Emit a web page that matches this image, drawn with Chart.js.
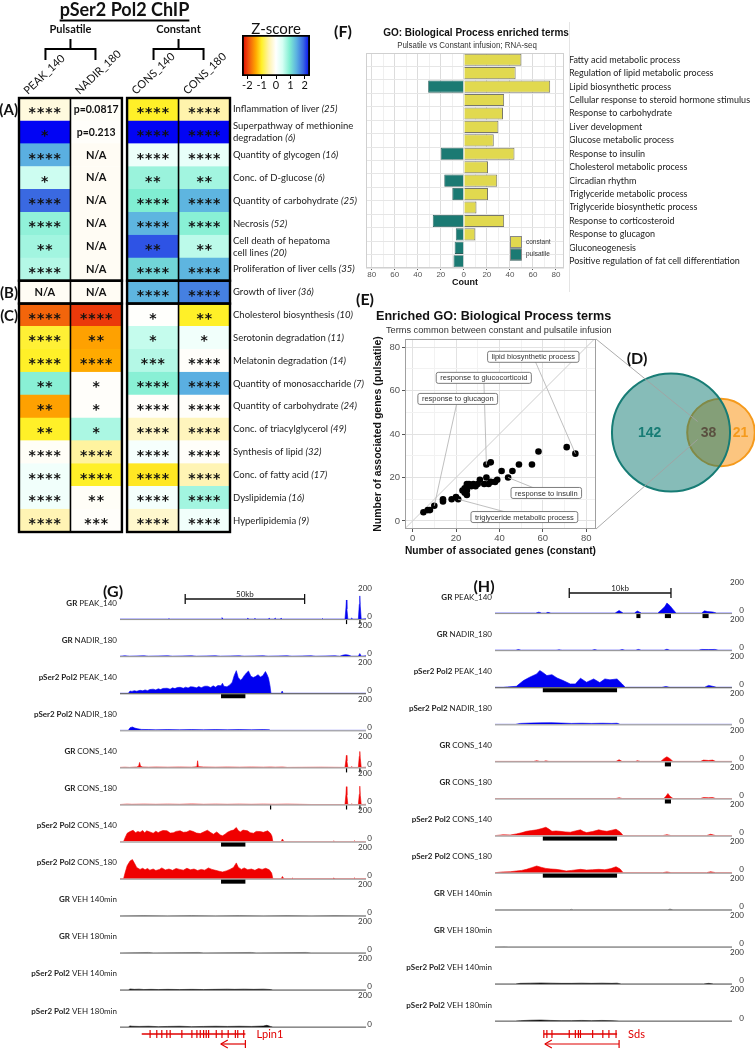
<!DOCTYPE html>
<html>
<head>
<meta charset="utf-8">
<script src="https://cdn.jsdelivr.net/npm/chart.js@4.4.1/dist/chart.umd.min.js"></script>
<style>
    html, body { margin: 0; padding: 0; background: #fff; }
    #page { position: relative; width: 755px; height: 1049px; overflow: hidden; background: #fff; }
    #page canvas { position: absolute; left: 0; top: 0; }
</style>
</head>
<body>
<div id="page">
    <canvas id="heat" width="755" height="1049"></canvas>
    <canvas id="zbar" width="755" height="1049"></canvas>
    <canvas id="go" width="755" height="1049"></canvas>
    <canvas id="scatter" width="755" height="1049"></canvas>
    <canvas id="venn" width="900" height="1049"></canvas>
    <canvas id="tracksG" width="755" height="1049"></canvas>
    <canvas id="tracksH" width="755" height="1049"></canvas>
</div>
<script>
// ============================================
// DATA
// ============================================

// --- (A)-(C) heatmap: IPA terms, z-scores and significance per sample ---
const heatColumns = ['PEAK_140', 'NADIR_180', 'CONS_140', 'CONS_180'];
const heatTerms = [
    'Inflammation of liver', 'Superpathway of methionine\ndegradation', 'Quantity of glycogen',
    'Conc. of D-glucose', 'Quantity of carbohydrate', 'Necrosis', 'Cell death of hepatoma\ncell lines',
    'Proliferation of liver cells', 'Growth of liver', 'Cholesterol biosynthesis', 'Serotonin degradation',
    'Melatonin degradation', 'Quantity of monosaccharide', 'Quantity of carbohydrate',
    'Conc. of triacylglycerol', 'Synthesis of lipid', 'Conc. of fatty acid', 'Dyslipidemia', 'Hyperlipidemia'
];
const heatCounts = [25, 6, 16, 6, 25, 52, 20, 35, 36, 10, 11, 14, 7, 24, 49, 32, 17, 16, 9];
const heatGroups = [['(A)', 0, 8], ['(B)', 8, 9], ['(C)', 9, 19]];

// null = N/A
const zPeak140  = [-0.2, 2.35, 1.45, 0.5, 1.9, 0.85, 0.75, 0.65, null, -1.8, -0.95, -1.0, 0.9, -1.45, -1.0, -0.05, 0.15, 0.15, -0.45];
const zNadir180 = [-0.05, -0.03, null, null, null, null, null, null, null, -2.05, -1.45, -1.4, -0.03, -0.03, 0.7, -0.55, -1.0, -0.05, -0.03];
const zCons140  = [-1.0, 2.35, 0.2, 0.8, 0.95, 1.4, 2.0, 1.15, 1.4, -0.02, 0.55, 0.65, 0.9, -0.03, -0.35, 0.1, -1.05, 0.12, -0.3];
const zCons180  = [-0.5, 2.35, 0.25, 0.75, 1.4, 0.9, 0.6, 1.4, 1.75, -1.0, 0.15, -0.03, 1.45, -0.03, -0.4, -0.03, -0.45, 0.75, 0.15];

const txtPeak140  = ['****', '*', '****', '*', '****', '****', '**', '****', 'N/A', '****', '****', '****', '**', '**', '**', '****', '****', '****', '****'];
const txtNadir180 = ['p=0.0817', 'p=0.213', 'N/A', 'N/A', 'N/A', 'N/A', 'N/A', 'N/A', 'N/A', '****', '**', '****', '*', '*', '*', '****', '****', '**', '***'];
const txtCons140  = ['****', '****', '****', '**', '****', '****', '**', '****', '****', '*', '*', '***', '****', '****', '****', '****', '****', '****', '****'];
const txtCons180  = ['****', '****', '****', '**', '****', '****', '**', '****', '****', '**', '*', '****', '****', '****', '****', '****', '****', '****', '****'];

const zTicks = [-2, -1, 0, 1, 2];

// --- (F) GO terms, RNA-seq counts ---
const goTerms = [
    'Fatty acid metabolic process', 'Regulation of lipid metabolic process', 'Lipid biosynthetic process',
    'Cellular response to steroid hormone stimulus', 'Response to carbohydrate', 'Liver development',
    'Glucose metabolic process', 'Response to insulin', 'Cholesterol metabolic process', 'Circadian rhythm',
    'Triglyceride metabolic process', 'Triglyceride biosynthetic process', 'Response to corticosteroid',
    'Response to glucagon', 'Gluconeogenesis', 'Positive regulation of fat cell differentiation'
];
const goConstant  = [50, 45, 75, 35, 34, 30, 26, 44, 21, 29, 21, 11, 35, 10, 0, 0];
const goPulsatile = [0, 0, 31, 0, 0, 0, 0, 20, 0, 17, 10, 0, 27, 7, 8, 9];

// --- (E) common GO terms: genes (constant) vs genes (pulsatile) ---
const commonConstant  = [5, 7, 8, 10, 14, 14, 18, 20, 21, 23, 24, 24, 25, 25, 25, 26, 27, 28, 29, 30, 31, 33, 34, 34, 35, 36, 36, 38, 39, 41, 44, 46, 49, 55, 58, 71, 75, 25];
const commonPulsatile = [4, 5, 5, 7, 9, 10, 10, 11, 10, 14, 15, 13, 12, 17, 14, 17, 16, 17, 16, 17, 19, 17, 20, 26, 17, 27, 18, 18, 19, 23, 20, 23, 26, 26, 32, 34, 31, 16];
const namedTerms  = ['lipid biosynthetic process', 'response to glucocorticoid', 'response to glucagon', 'response to insulin', 'triglyceride metabolic process'];
const namedX      = [75, 34, 10, 44, 21];
const namedY      = [31, 26, 7, 20, 10];
const namedLabelX = [55.6, 32.8, 20.8, 61.6, 51.5];
const namedLabelY = [75.6, 65.9, 56.2, 12.9, 1.8];

// --- (D) Venn counts: teal only, shared, orange only ---
const vennCounts = [142, 38, 21];

// --- (G)/(H) browser tracks ---
const trackFactors = ['GR', 'GR', 'pSer2 Pol2', 'pSer2 Pol2', 'GR', 'GR', 'pSer2 Pol2', 'pSer2 Pol2', 'GR', 'GR', 'pSer2 Pol2', 'pSer2 Pol2'];
const trackSamples = ['PEAK_140', 'NADIR_180', 'PEAK_140', 'NADIR_180', 'CONS_140', 'CONS_180', 'CONS_140', 'CONS_180', 'VEH 140min', 'VEH 180min', 'VEH 140min', 'VEH 180min'];

// Lpin1 locus, [kb, signal]
const gGrPeak140 = [[0,0],[20,0],[20.5,2],[21,0],[42.3,0],[42.7,8],[43.1,0],[53,0],[53.5,4],[54,0],[56,0],[56.5,3],[57,0],[62,0],[62.5,4],[63,0],[64.5,0],[65,5],[65.5,0],[67,0],[67.5,4],[68,0],[84.5,0],[84.8,3],[85.1,0],[94.2,0],[94.6,60],[94.8,103],[95.0,55],[95.4,0],[96.5,0],[97,5],[97.5,0],[99.8,0],[100.2,80],[100.4,125],[100.6,70],[101,0],[103,2]];
const gGrNadir180 = [[0,0],[2,2],[4,0],[10,2],[12,0],[20,2],[22,0],[30,2],[32,0],[40,2],[42,0],[50,2],[52,0],[60,2],[62,0],[70,2],[72,0],[80,2],[82,0],[90,2],[92,0],[93.5,6],[94.5,8],[95.5,6],[97,0],[99.8,0],[100.4,14],[101,0],[103,2]];
const gPolPeak140 = [[0,0],[3.5,0],[4.2,12],[5,10],[6,14],[7,11],[8.4,16],[9.5,13],[10.5,18],[11.5,14],[12.5,20],[13.9,22],[15,18],[16,24],[17,20],[18,26],[19.7,27],[21,22],[22,29],[23,25],[24,31],[25.2,32],[26.5,27],[27.5,33],[28.5,28],[29.5,35],[30.7,34],[32,29],[33,36],[34,30],[35.5,38],[36.6,38],[38,31],[39,40],[40,33],[41,42],[42.3,40],[42.9,54],[43.5,38],[44.5,35],[45,37],[46,45],[47,60],[47.8,95],[48.7,122],[49.5,85],[50.5,70],[51.3,81],[52,95],[53,110],[53.8,120],[54.8,92],[55.8,85],[56.7,90],[57.8,100],[58.8,88],[59.8,95],[60.9,117],[61.6,100],[62.2,81],[62.8,40],[63.2,0],[67.5,0],[67.9,12],[68.3,0],[103,0]];
const gPolNadir180 = [[0,0],[3.5,0],[4.2,14],[5.2,18],[6.2,12],[7.5,8],[9,5],[12,4],[15,3],[20,4],[25,3],[30,4],[35,3],[40,4],[45,3],[50,4],[55,3],[60,4],[62.5,3],[63,0],[103,0]];
const gGrCons140 = [[0,0],[2,1],[4,0],[7,2],[7.8,6],[8.2,27],[8.6,6],[9.5,2],[12,1],[15,2],[20,1],[25,2],[30,1],[32.2,4],[32.5,36],[32.8,4],[35,2],[40,1],[45,2],[50,1],[55,2],[60,1],[63,2],[65,1],[68,2],[70,0],[84,1],[94.2,0],[94.6,40],[94.8,65],[95.0,35],[95.4,0],[96.5,0],[97,4],[97.5,0],[99.8,0],[100.2,60],[100.4,86],[100.6,50],[101,0],[103,1]];
const gGrCons180 = [[0,0],[3,2],[5,1],[10,2],[15,1],[20,2],[25,1],[30,3],[35,1],[40,2],[45,1],[50,2],[55,1],[60,2],[65,1],[70,2],[75,1],[80,0],[94.2,0],[94.6,55],[94.8,96],[95.0,50],[95.4,0],[96.5,0],[97,3],[97.5,0],[99.8,0],[100.2,55],[100.4,99],[100.6,50],[101,0],[103,1]];
const gPolCons140 = [[0,0],[1.5,0],[2.1,20],[3,45],[4.2,54],[5.5,61],[6.5,48],[7.5,55],[8.4,50],[9.5,60],[10.3,47],[11.2,58],[12.5,52],[13.9,45],[15,56],[16,48],[16.8,54],[18,60],[19.7,58],[21,46],[22.3,47],[23.5,55],[25.2,58],[26.5,50],[28,52],[29.2,60],[30.7,54],[32,46],[33.6,43],[35,52],[36.6,61],[37.8,50],[39.1,40],[40.5,52],[42,36],[42.9,31],[44,40],[45,50],[46.3,58],[47.5,62],[48.7,76],[49.5,60],[50.4,52],[51.5,62],[53.4,58],[54.5,48],[55.9,45],[57,55],[58.8,54],[60,50],[61.8,58],[63,45],[63.6,30],[64,0],[67.5,0],[68,14],[68.6,0],[89,0],[89.5,3],[90,0],[97.8,0],[98.2,4],[98.6,0],[103,0]];
const gPolCons180 = [[0,0],[1.5,0],[2.1,30],[3,70],[4.2,95],[5.2,103],[6.2,80],[7,60],[8.4,50],[9.5,56],[10.5,48],[11.5,55],[12.5,46],[13.9,52],[15,44],[16.5,50],[17.5,58],[19,47],[20.5,52],[22,45],[23.5,55],[25,50],[26.5,46],[28,56],[29.5,48],[31,52],[32.5,44],[34,50],[35.5,46],[37,58],[38.5,50],[40,45],[41.5,40],[42.9,36],[44.5,42],[46,50],[47.5,60],[48.7,85],[49.5,62],[50.8,50],[52,58],[53.5,48],[55,52],[56.5,45],[58,55],[59.5,50],[61,56],[62.5,48],[63.5,30],[64,0],[67.5,0],[68,12],[68.6,0],[72,0],[72.3,3],[72.6,0],[89,0],[89.5,3],[90,0],[97.8,0],[98.2,4],[98.6,0],[103,0]];
const gGrVeh140 = [[0,0],[10,1],[20,0],[30,1],[40,0],[50,1],[60,0],[70,1],[80,0],[90,1],[103,0]];
const gGrVeh180 = [[0,0],[12,2],[14,0],[33,2],[35,0],[55,2],[57,0],[78,2],[80,0],[103,0]];
const gPolVeh140 = [[0,0],[3.5,0],[4.2,5],[6,3],[8,4],[10,2],[13,3],[16,2],[20,3],[25,2],[30,3],[35,2],[40,3],[45,4],[48,3],[52,4],[56,3],[60,4],[63,2],[64,0],[103,0]];
const gPolVeh180 = [[0,0],[3.5,0],[4.2,6],[5,4],[8,3],[12,4],[16,2],[20,3],[25,4],[30,2],[35,3],[40,4],[45,3],[50,4],[55,3],[60,5],[61.5,9],[63,3],[64,0],[103,0]];

// Sds locus, [kb, signal]
const hGrPeak140 = [[0,0],[4.0,0],[4.3,5],[4.6,0],[5.0,0],[5.2,4],[5.5,0],[11.8,0],[12.2,14],[12.6,0],[13.7,0],[14.0,11],[14.4,0],[16.0,0],[16.4,20],[16.7,35],[16.9,54],[17.2,40],[17.5,20],[17.8,0],[20.3,0],[20.6,12],[20.9,8],[21.4,6],[21.8,0],[23.3,0]];
const hGrNadir180 = [[0,0],[2,0],[2.3,3],[2.6,0],[6,0],[6.3,2],[6.6,0],[9.5,0],[9.8,3],[10.1,0],[12.2,0],[12.5,3],[12.8,0],[13.8,0],[14.1,4],[14.4,0],[16.6,0],[16.9,5],[17.2,0],[20,0],[20.3,4],[21,3],[21.6,4],[22,0],[23.3,0]];
const hPolPeak140 = [[0,0],[0.8,0],[1.2,2],[2.1,5],[2.8,36],[3.4,54],[4.1,72],[4.4,90],[4.7,80],[5.1,63],[5.6,68],[6.1,50],[6.7,36],[7.4,18],[7.9,18],[8.4,49],[9.0,27],[9.7,45],[10.3,25],[10.8,45],[11.3,40],[12.0,45],[12.5,18],[12.8,0],[16.4,0],[16.8,4],[17.2,0],[20.6,0],[21.0,10],[21.4,5],[21.8,0],[23.3,0]];
const hPolNadir180 = [[0,0],[2.0,0],[2.5,5],[3.5,7],[4.5,8],[5.5,9],[6.5,7],[7.5,5],[8.5,6],[9.5,5],[10.5,6],[11.5,5],[12.0,6],[12.3,0],[23.3,0]];
const hGrCons140 = [[0,0],[3.8,0],[4.1,4],[4.4,0],[4.8,0],[5.0,3],[5.3,0],[11.9,0],[12.2,9],[12.5,0],[13.8,0],[14.0,4],[14.3,0],[16.3,0],[16.6,15],[16.9,25],[17.2,15],[17.5,0],[20.2,0],[20.5,7],[21.0,5],[21.4,7],[21.7,0],[23.3,0]];
const hGrCons180 = [[0,0],[11.9,0],[12.2,4],[12.5,0],[16.6,0],[16.8,12],[17.0,27],[17.2,12],[17.5,0],[20.2,0],[20.5,5],[21.0,4],[21.4,5],[21.7,0],[23.3,0]];
const hPolCons140 = [[0,0],[0.8,4],[1.5,3],[2.1,9],[2.6,15],[3.1,23],[3.6,27],[4.1,31],[4.6,38],[5.0,45],[5.3,35],[5.6,23],[6.0,25],[6.4,23],[6.9,20],[7.4,18],[7.9,25],[8.4,31],[8.7,22],[9.0,16],[9.6,22],[10.2,31],[10.6,26],[11.0,23],[11.4,28],[11.9,34],[12.3,20],[12.6,0],[16.5,0],[16.9,5],[17.3,0],[20.8,0],[21.2,7],[21.7,0],[23.3,0]];
const hPolCons180 = [[0,0],[0.8,4],[1.5,5],[2.1,9],[2.6,12],[3.1,18],[3.6,27],[4.1,36],[4.6,28],[5.0,23],[5.5,20],[6.0,18],[6.5,14],[7.0,9],[7.5,12],[8.4,18],[9.0,14],[9.6,16],[10.2,18],[10.8,16],[11.4,22],[11.9,32],[12.3,20],[12.6,0],[16.5,0],[16.9,4],[17.3,0],[20.8,0],[21.2,5],[21.7,0],[23.3,0]];
const hGrVeh140 = [[0,0],[7.3,0],[7.5,2],[7.7,0],[17.0,0],[17.2,3],[17.5,0],[23.3,0]];
const hGrVeh180 = [[0,0],[1,1],[1.3,0],[23.3,0]];
const hPolVeh140 = [[0,0],[2.0,0],[2.5,3],[3.5,4],[4.5,5],[5.5,4],[6.5,3],[7.5,3],[8.5,4],[9.5,3],[10.5,4],[11.5,3],[12.0,4],[12.4,0],[20.5,0],[21.0,3],[21.5,0],[23.3,0]];
const hPolVeh180 = [[0,0],[2.0,0],[2.5,2],[3.5,4],[4.5,5],[5.5,3],[6.5,2],[7.5,2],[8.5,3],[9.5,2],[10.5,3],[11.5,2],[12.2,0],[23.3,0]];

// called peaks under tracks, [start kb, end kb]
const gPeaks = [[[94.6, 95.0], [100.2, 100.6]], [], [[42.3, 52.5]], [], [[94.6, 95.0], [100.2, 100.6]], [[62.8, 63.2], [94.6, 95.0], [100.2, 100.6]], [[42.3, 52.5]], [[42.3, 52.5]], [], [], [], []];
const hPeaks = [[[13.9, 14.3], [16.7, 17.3], [20.4, 21.0]], [], [[4.7, 12.0]], [], [[16.7, 17.3]], [[16.7, 17.3]], [[4.7, 12.0]], [[4.7, 12.0]], [], [], [], []];

// gene models (kb)
const lpin1Exons = [12.6, 15.4, 17.5, 19.6, 21, 25.9, 30.1, 32.2, 33.6, 35, 36.1, 37.1, 40.3, 42.7, 45.3, 48.3, 49.3, 51.8];
const sdsExons = [4.8, 5.1, 5.6, 7.3, 7.9, 8.2, 8.4, 9.6, 10.6, 11.2, 11.9];

// ============================================
// SETUP
// ============================================
const W = 755, H = 1049;
const cv = id => document.getElementById(id);
// chart box (including axes) given in page pixels -> layout padding
const box = (l, t, r, b, w = W) => ({ left: l, top: t, right: w - r, bottom: H - b });

Chart.defaults.font.family = 'Lato, "Liberation Sans", sans-serif';
Chart.defaults.color = '#222';
Chart.defaults.animation = false;
Chart.defaults.responsive = false;
Chart.defaults.devicePixelRatio = 1;
Chart.defaults.events = [];
Chart.defaults.plugins.legend.display = false;
Chart.defaults.plugins.tooltip.enabled = false;

const zStops = [
    [-2.37, [224, 0, 0]], [-1.9, [240, 84, 14]], [-1.4, [255, 170, 0]], [-1.0, [255, 240, 40]],
    [-0.5, [255, 243, 172]], [0, [255, 255, 255]], [0.45, [214, 255, 244]], [0.95, [128, 238, 210]],
    [1.45, [90, 175, 225]], [1.9, [58, 105, 225]], [2.37, [0, 0, 245]]
];
const zMin = zStops[0][0], zMax = zStops[zStops.length - 1][0];

function zColor(z) {
    if (z === null) return '#fffcf4';
    z = Math.max(zMin, Math.min(zMax, z));
    for (let i = 1; i < zStops.length; i++) {
        const [z1, c1] = zStops[i];
        const [z0, c0] = zStops[i - 1];
        if (z <= z1) {
            const t = (z - z0) / (z1 - z0);
            const c = c0.map((v, k) => Math.round(v + (c1[k] - v) * t));
            return `rgb(${c[0]},${c[1]},${c[2]})`;
        }
    }
    return 'rgb(0,0,245)';
}

function line(ctx, x1, y1, x2, y2) {
    ctx.beginPath();
    ctx.moveTo(x1, y1);
    ctx.lineTo(x2, y2);
    ctx.stroke();
}

// text squeezed horizontally (panel F was scaled down in width)
function squeezed(ctx, text, x, y, font, sx) {
    ctx.save();
    ctx.font = font;
    ctx.translate(x, y);
    ctx.scale(sx, 1);
    ctx.textAlign = 'center';
    ctx.fillText(text, 0, 0);
    ctx.restore();
}

// ============================================
// (A)-(C) HEATMAP
// ============================================
const heatZ = [zPeak140, zNadir180, zCons140, zCons180];
const heatText = [txtPeak140, txtNadir180, txtCons140, txtCons180];
const colStart = [0, 1, 2.1, 3.1];
const heatBlocks = [[0, 1, 'Pulsatile'], [2, 3, 'Constant']];

const heatDecor = {
    id: 'heatDecor',
    afterDatasetsDraw(chart) {
        const { ctx, chartArea: a, scales: { x } } = chart;
        const n = heatTerms.length;
        const band = (a.bottom - a.top) / n;
        const rowTop = r => a.top + r * band;
        ctx.save();
        ctx.fillStyle = '#111';
        ctx.textAlign = 'center';
        ctx.textBaseline = 'middle';

        // cell annotations
        chart.data.datasets.forEach((ds, ci) => {
            chart.getDatasetMeta(ci).data.forEach((bar, r) => {
                const txt = heatText[ci][r];
                const cx = (bar.x + bar.base) / 2;
                if (txt[0] === '*') {
                    ctx.font = 'bold 14px "DejaVu Sans"';
                    ctx.letterSpacing = '1px';
                    ctx.fillText(txt, cx + 0.5, bar.y + 4);
                    ctx.letterSpacing = '0px';
                } else {
                    ctx.font = txt === 'N/A' ? 'bold 11px Lato' : 'bold 10.5px Lato';
                    ctx.fillText(txt, cx, bar.y);
                }
            });
        });

        // frames
        ctx.strokeStyle = '#000';
        heatBlocks.forEach(([c0, c1]) => {
            const left = x.getPixelForValue(colStart[c0]);
            const right = x.getPixelForValue(colStart[c1] + 1);
            ctx.lineWidth = 1.6;
            const mid = x.getPixelForValue(colStart[c1]);
            line(ctx, mid, a.top, mid, a.bottom);
            ctx.lineWidth = 2.4;
            heatGroups.forEach(([, r0, r1]) => {
                ctx.strokeRect(left, rowTop(r0), right - left, (r1 - r0) * band);
            });
        });

        // group letters
        ctx.font = 'bold 15px Lato';
        ctx.textAlign = 'right';
        heatGroups.forEach(([lab, r0]) => ctx.fillText(lab, a.left - 1, rowTop(r0) + band / 2 + 1));

        // row labels with italic gene counts
        ctx.textAlign = 'left';
        heatTerms.forEach((term, r) => {
            const lines = term.split('\n');
            const cy = rowTop(r) + band / 2;
            lines.forEach((ln, k) => {
                const y = cy + (k - (lines.length - 1) / 2) * 12;
                ctx.font = '9.5px Lato';
                ctx.fillStyle = '#222';
                ctx.fillText(ln, a.right + 3, y);
                if (k === lines.length - 1) {
                    const w = ctx.measureText(ln + ' ').width;
                    ctx.font = 'italic 9.5px Lato';
                    ctx.fillText('(' + heatCounts[r] + ')', a.right + 3 + w, y);
                }
            });
        });

        // column headers
        ctx.fillStyle = '#111';
        ctx.font = '11px Lato';
        ctx.textBaseline = 'alphabetic';
        heatColumns.forEach((name, ci) => {
            ctx.save();
            ctx.translate(x.getPixelForValue(colStart[ci]) + 9, a.top - 3);
            ctx.rotate(-0.76);
            ctx.fillText(name, 0, 0);
            ctx.restore();
        });

        // brackets + group names
        ctx.lineWidth = 2;
        ctx.textAlign = 'center';
        heatBlocks.forEach(([c0, c1, name]) => {
            const cx = (x.getPixelForValue(colStart[c0]) + x.getPixelForValue(colStart[c1] + 1)) / 2;
            ctx.font = 'bold 11px Lato';
            ctx.fillText(name, cx, 33);
            line(ctx, cx, 39, cx, 49);
            ctx.beginPath();
            ctx.moveTo(cx - 25, 60);
            ctx.lineTo(cx - 25, 49);
            ctx.lineTo(cx + 25, 49);
            ctx.lineTo(cx + 25, 60);
            ctx.stroke();
        });

        // title
        const tx = (a.left + a.right) / 2;
        ctx.font = 'bold 18px Lato';
        ctx.fillText('pSer2 Pol2 ChIP', tx, 16);
        const tw = ctx.measureText('pSer2 Pol2 ChIP').width;
        ctx.lineWidth = 1.8;
        line(ctx, tx - tw / 2, 20.5, tx + tw / 2, 20.5);
        ctx.restore();
    }
};

new Chart(cv('heat'), {
    type: 'bar',
    data: {
        labels: heatTerms,
        datasets: heatColumns.map((name, ci) => ({
            label: name,
            data: heatTerms.map(() => [colStart[ci], colStart[ci] + 1]),
            backgroundColor: heatZ[ci].map(zColor),
            borderColor: heatZ[ci].map(zColor),
            borderWidth: 0.5,
            borderSkipped: false,
            barPercentage: 1,
            categoryPercentage: 1,
            grouped: false
        }))
    },
    options: {
        indexAxis: 'y',
        layout: { padding: box(19, 98, 230, 532) },
        scales: {
            x: { type: 'linear', min: 0, max: 4.1, display: false },
            y: { display: false }
        }
    },
    plugins: [heatDecor]
});

// ============================================
// Z-SCORE COLOUR BAR
// ============================================
new Chart(cv('zbar'), {
    type: 'bar',
    data: {
        labels: ['Z-score'],
        datasets: [{
            data: [[zMin, zMax]],
            backgroundColor: (c) => {
                const chart = c.chart;
                if (!chart.chartArea) return '#fff';
                const sx = chart.scales.x;
                const g = chart.ctx.createLinearGradient(sx.getPixelForValue(zMin), 0, sx.getPixelForValue(zMax), 0);
                zStops.forEach(([z, col]) => g.addColorStop((z - zMin) / (zMax - zMin), `rgb(${col.join(',')})`));
                return g;
            },
            borderColor: '#000',
            borderWidth: 2.2,
            borderSkipped: false,
            barPercentage: 1,
            categoryPercentage: 1
        }]
    },
    options: {
        indexAxis: 'y',
        layout: { padding: box(242, 35, 310, 94) },
        scales: {
            x: {
                type: 'linear', min: zMin, max: zMax,
                afterBuildTicks: s => { s.ticks = zTicks.map(v => ({ value: v })); },
                ticks: { font: { size: 11 }, color: '#111', padding: 0 },
                grid: { drawOnChartArea: false, tickLength: 3, color: '#000' },
                border: { display: false },
                afterFit: s => { s.height = 18; }
            },
            y: { display: false }
        }
    },
    plugins: [{
        id: 'zTitle',
        afterDraw(chart) {
            const { ctx, chartArea: a } = chart;
            ctx.save();
            ctx.font = '15px Lato';
            ctx.fillStyle = '#111';
            ctx.textAlign = 'center';
            ctx.fillText('Z-score', (a.left + a.right) / 2, a.top - 1);
            ctx.restore();
        }
    }]
});

// ============================================
// (F) GO BAR CHART
// ============================================
const goDecor = {
    id: 'goDecor',
    afterDraw(chart) {
        const { ctx, chartArea: a } = chart;
        ctx.save();
        ctx.strokeStyle = '#d0d0d0';
        ctx.lineWidth = 1;
        ctx.strokeRect(a.left + 0.5, a.top + 0.5, a.width - 1, a.height - 1);
        ctx.strokeStyle = '#e4e4e4';
        line(ctx, 569.5, 22, 569.5, 292);

        ctx.fillStyle = '#111';
        squeezed(ctx, 'GO: Biological Process enriched terms', 476, 36, 'bold 11.5px "Liberation Sans"', 0.87);
        ctx.fillStyle = '#333';
        squeezed(ctx, 'Pulsatile vs Constant infusion; RNA-seq', 467, 48, '8.5px "Liberation Sans"', 0.93);
        ctx.fillStyle = '#111';
        ctx.font = 'bold 16px Lato';
        ctx.textAlign = 'center';
        ctx.fillText('(F)', 343, 37);

        // legend inside panel
        ctx.textAlign = 'left';
        ctx.textBaseline = 'middle';
        ctx.font = '6.5px "Liberation Sans"';
        chart.data.datasets.forEach((ds, i) => {
            const y = 236 + i * 12.5;
            ctx.fillStyle = ds.backgroundColor;
            ctx.fillRect(510, y, 11.5, 12);
            ctx.strokeStyle = '#888';
            ctx.strokeRect(510.5, y + 0.5, 11, 11);
            ctx.fillStyle = '#333';
            ctx.fillText(ds.label, 526, y + 6);
        });
        ctx.restore();
    }
};

new Chart(cv('go'), {
    type: 'bar',
    data: {
        labels: goTerms,
        datasets: [
            {
                label: 'constant',
                data: goConstant.map(v => v || null),
                backgroundColor: '#e1d94f', borderColor: '#77776a', borderWidth: 1,
                barPercentage: 0.9, categoryPercentage: 1
            },
            {
                label: 'pulsatile',
                data: goPulsatile.map(v => v ? -v : null),
                backgroundColor: '#1b7a73', borderColor: '#2a5e5a', borderWidth: 0.8,
                barPercentage: 0.9, categoryPercentage: 1
            }
        ]
    },
    options: {
        indexAxis: 'y',
        layout: { padding: box(366, 53, 755, 288) },
        scales: {
            x: {
                type: 'linear', stacked: true, min: -85, max: 87,
                ticks: {
                    stepSize: 10, includeBounds: false, autoSkip: false, maxRotation: 0, padding: 0,
                    callback: v => v % 20 === 0 ? String(Math.abs(v)) : '',
                    font: { family: '"Liberation Sans"', size: 8 }, color: '#555'
                },
                grid: {
                    color: c => c.tick && c.tick.value % 20 === 0 ? '#dcdcdc' : '#efefef',
                    tickLength: 2,
                    tickColor: c => c.tick && c.tick.value % 20 === 0 ? '#555' : 'rgba(0,0,0,0)'
                },
                border: { display: false },
                title: {
                    display: true, text: 'Count', color: '#111',
                    font: { family: '"Liberation Sans"', size: 9, weight: 'bold' },
                    padding: { top: 1, bottom: 0 }
                },
                afterFit: s => { s.height = 20; }
            },
            y: {
                position: 'right', stacked: true,
                ticks: { font: { size: 9 }, color: '#1a1a1a', padding: 5, autoSkip: false },
                grid: { offset: true, color: '#e6e6e6', drawTicks: false },
                border: { display: false },
                afterFit: s => { s.width = 191; }
            }
        }
    },
    plugins: [goDecor]
});

// ============================================
// (E) SCATTER OF COMMON TERMS
// ============================================
const scatterDecor = {
    id: 'scatterDecor',
    afterDatasetsDraw(chart) {
        const { ctx, chartArea: a, scales: { x, y } } = chart;
        ctx.save();
        ctx.strokeStyle = '#a0a0a0';
        ctx.lineWidth = 1;
        ctx.strokeRect(a.left + 0.5, a.top + 0.5, a.width - 1, a.height - 1);

        ctx.font = '7.5px "Liberation Sans"';
        ctx.textAlign = 'center';
        ctx.textBaseline = 'middle';
        namedTerms.forEach((t, i) => {
            const px = x.getPixelForValue(namedX[i]), py = y.getPixelForValue(namedY[i]);
            const lx = x.getPixelForValue(namedLabelX[i]), ly = y.getPixelForValue(namedLabelY[i]);
            ctx.strokeStyle = '#b8b8b8';
            ctx.lineWidth = 0.9;
            line(ctx, lx, ly, px, py);
            const w = ctx.measureText(t).width + 8, h = 11;
            ctx.beginPath();
            ctx.roundRect(lx - w / 2, ly - h / 2, w, h, 2);
            ctx.fillStyle = '#fff';
            ctx.fill();
            ctx.strokeStyle = '#6e6e6e';
            ctx.lineWidth = 0.9;
            ctx.stroke();
            ctx.fillStyle = '#333';
            ctx.fillText(t, lx, ly + 0.5);
        });
        ctx.restore();
    },
    afterDraw(chart) {
        const { ctx } = chart;
        ctx.save();
        ctx.fillStyle = '#111';
        ctx.font = 'bold 16px Lato';
        ctx.textAlign = 'center';
        ctx.fillText('(E)', 365, 305);
        ctx.textAlign = 'left';
        ctx.font = 'bold 12.6px "Liberation Sans"';
        ctx.fillText('Enriched GO: Biological Process terms', 376, 320);
        ctx.beginPath();
        ctx.rect(370, 322, 243, 14);
        ctx.clip();
        ctx.font = '9.2px "Liberation Sans"';
        ctx.fillStyle = '#333';
        ctx.fillText('Terms common between constant and pulsatile infusion', 386, 333);
        ctx.restore();
    }
};

const sxMin = -3.5, sxMax = 84.5, syMin = -3.7, syMax = 83.8;
const gridCol = c => c.tick && c.tick.value % 20 === 0 ? '#e2e2e2' : '#f2f2f2';
const tickCol = c => c.tick && c.tick.value % 20 === 0 ? '#555' : 'rgba(0,0,0,0)';
const axisTitleFont = { family: '"Liberation Sans"', size: 10.5, weight: 'bold' };

const scatterChart = new Chart(cv('scatter'), {
    type: 'scatter',
    data: {
        datasets: [
            {
                type: 'line',
                data: [{ x: sxMin, y: sxMin }, { x: sxMax, y: sxMax }],
                borderColor: '#cdcdcd', borderWidth: 1, pointRadius: 0, order: 2
            },
            {
                data: commonConstant.map((v, i) => ({ x: v, y: commonPulsatile[i] })),
                backgroundColor: '#000', borderWidth: 0, pointRadius: 3.3, order: 1
            }
        ]
    },
    options: {
        layout: { padding: box(370, 339, 596, 559) },
        scales: {
            x: {
                type: 'linear', min: sxMin, max: sxMax,
                ticks: {
                    stepSize: 10, includeBounds: false, autoSkip: false, maxRotation: 0, padding: 1,
                    callback: v => v % 20 === 0 ? String(v) : '',
                    font: { family: '"Liberation Sans"', size: 9.5 }, color: '#555'
                },
                grid: { color: gridCol, tickLength: 3, tickColor: tickCol },
                border: { display: false },
                title: { display: true, text: 'Number of associated genes (constant)', color: '#111', font: axisTitleFont, padding: { top: 0, bottom: 2 } },
                afterFit: s => { s.height = 30; }
            },
            y: {
                type: 'linear', min: syMin, max: syMax,
                ticks: {
                    stepSize: 10, includeBounds: false, autoSkip: false, padding: 2,
                    callback: v => v % 20 === 0 ? String(v) : '',
                    font: { family: '"Liberation Sans"', size: 9.5 }, color: '#555'
                },
                grid: { color: gridCol, tickLength: 3, tickColor: tickCol },
                border: { display: false },
                title: { display: true, text: 'Number of associated genes (pulsatile)', color: '#111', font: axisTitleFont, padding: { top: 2, bottom: 0 } },
                afterFit: s => { s.width = 35; }
            }
        }
    },
    plugins: [scatterDecor]
});

// ============================================
// (D) VENN
// ============================================
const tealSize = vennCounts[0] + vennCounts[1];
const orangeSize = vennCounts[1] + vennCounts[2];
const vennK = 4.4;                    // px per sqrt(term)
const rTeal = vennK * Math.sqrt(tealSize);
const rOrange = vennK * Math.sqrt(orangeSize);
const centreGap = 50;                 // px between circle centres

const vennDecor = {
    id: 'vennDecor',
    afterDatasetsDraw(chart) {
        const { ctx, scales: { x, y } } = chart;
        const cy = y.getPixelForValue(0);
        const leftEdge = x.getPixelForValue(-rTeal);
        const overlapL = x.getPixelForValue(centreGap - rOrange);
        const overlapR = x.getPixelForValue(rTeal);
        const rightEdge = x.getPixelForValue(centreGap + rOrange);
        const pos = [(leftEdge + overlapL) / 2, (overlapL + overlapR) / 2, (overlapR + rightEdge) / 2 - 2];
        const cols = ['#177c75', '#5a5040', '#f59a1c'];
        ctx.save();
        // zoom lines from panel E
        const sa = scatterChart.chartArea;
        ctx.strokeStyle = '#a3a3a3';
        ctx.lineWidth = 0.9;
        line(ctx, sa.right, sa.top, pos[1] - 11, cy - 11);
        line(ctx, sa.right, sa.bottom, pos[1] - 11, cy + 7);

        ctx.font = 'bold 14px "Liberation Sans"';
        ctx.textAlign = 'center';
        ctx.textBaseline = 'middle';
        vennCounts.forEach((n, i) => {
            ctx.fillStyle = cols[i];
            ctx.fillText(String(n), pos[i], cy + 1);
        });
        ctx.fillStyle = '#111';
        ctx.font = 'bold 16px Lato';
        ctx.fillText('(D)', 637, 359);
        ctx.restore();
    }
};

new Chart(cv('venn'), {
    type: 'bubble',
    data: {
        datasets: [
            {
                data: [{ x: 0, y: 0, r: rTeal }],
                backgroundColor: 'rgba(14,122,114,0.5)', borderColor: '#177c75', borderWidth: 2, clip: false
            },
            {
                data: [{ x: centreGap, y: 0, r: rOrange }],
                backgroundColor: 'rgba(250,150,22,0.55)', borderColor: '#f59a1c', borderWidth: 2, clip: false
            }
        ]
    },
    options: {
        // canvas is wider than the page so the bubble overflow margin does not squeeze the area
        layout: { padding: box(605, 365, 755, 500, 900) },
        scales: {
            x: { type: 'linear', min: -66, max: 84, display: false },
            y: { type: 'linear', min: -67.5, max: 67.5, display: false }
        }
    },
    plugins: [vennDecor]
});

// ============================================
// (G)/(H) GENOME BROWSER TRACKS
// ============================================
function trackColor(i) {
    if (trackSamples[i].startsWith('VEH')) return '#111111';
    if (trackSamples[i].startsWith('CONS')) return '#f00000';
    return '#0000f0';
}

function trackChart(id, signals, o) {
    const scales = { x: { type: 'linear', min: 0, max: o.span, display: false } };
    signals.forEach((s, i) => {
        scales['t' + i] = { type: 'linear', position: 'right', stack: 'tracks', stackWeight: 1, min: 0, max: 200, display: false };
    });

    const decor = {
        id: 'trackDecor',
        afterDatasetsDraw(chart) {
            const { ctx, chartArea: a, scales: sc } = chart;
            const x = sc.x;
            ctx.save();
            signals.forEach((s, i) => {
                const t = sc['t' + i];
                const base = t.getPixelForValue(0);
                ctx.strokeStyle = i === 2 ? '#444' : '#8c8c8c';
                ctx.lineWidth = 1;
                line(ctx, a.left, base + 0.5, a.right, base + 0.5);

                // peak calls
                ctx.fillStyle = '#000';
                o.peaks[i].forEach(([p0, p1]) => {
                    const x0 = x.getPixelForValue(p0), x1 = x.getPixelForValue(p1);
                    ctx.fillRect(x0, base + 1, Math.max(1.2, x1 - x0), 4);
                });

                // track name
                ctx.textBaseline = 'middle';
                ctx.textAlign = 'left';
                ctx.font = 'bold 8px Lato';
                const w1 = ctx.measureText(trackFactors[i] + ' ').width;
                ctx.font = '8px Lato';
                const w2 = ctx.measureText(trackSamples[i]).width;
                const lx = a.left - 3 - w1 - w2;
                ctx.fillStyle = '#222';
                ctx.font = 'bold 8px Lato';
                ctx.fillText(trackFactors[i], lx, base - 16);
                ctx.font = '8px Lato';
                ctx.fillText(trackSamples[i], lx + w1, base - 16);

                // data range
                ctx.textAlign = 'right';
                ctx.fillStyle = '#333';
                ctx.font = '8px Lato';
                ctx.fillText('200', a.right + o.rangeDx, t.top + 6);
                ctx.fillText('0', a.right + o.rangeDx, base - 3);
            });

            // scale bar
            const t0 = sc.t0;
            const sbY = t0.top + 17;
            const s0 = x.getPixelForValue(o.bar[0]), s1 = x.getPixelForValue(o.bar[0] + o.bar[1]);
            ctx.strokeStyle = '#111';
            ctx.lineWidth = 1.3;
            line(ctx, s0, sbY, s1, sbY);
            line(ctx, s0, sbY - 5, s0, sbY + 5);
            line(ctx, s1, sbY - 5, s1, sbY + 5);
            ctx.fillStyle = '#222';
            ctx.textAlign = 'center';
            ctx.textBaseline = 'bottom';
            ctx.font = '8px Lato';
            ctx.fillText(o.bar[1] + 'kb', (s0 + s1) / 2, sbY - 1);

            // gene model
            const gy = o.geneY;
            const gx0 = x.getPixelForValue(o.gene[0]), gx1 = x.getPixelForValue(o.gene[1]);
            ctx.strokeStyle = '#e00000';
            ctx.fillStyle = '#e00000';
            ctx.lineWidth = 1.3;
            line(ctx, gx0, gy, gx1, gy);
            ctx.lineWidth = 1.2;
            o.exons.forEach(e => {
                const ex = x.getPixelForValue(e);
                line(ctx, ex, gy - 4, ex, gy + 4);
            });
            ctx.font = '11px Lato';
            ctx.textAlign = 'left';
            ctx.textBaseline = 'middle';
            ctx.fillText(o.name, gx1 + 11, gy);
            const ax0 = x.getPixelForValue(o.arrow[0]), ax1 = x.getPixelForValue(o.arrow[1]);
            ctx.lineWidth = 1.2;
            line(ctx, ax0, gy + 10, ax1, gy + 10);
            line(ctx, ax0, gy + 6, ax0, gy + 14);
            line(ctx, ax1, gy + 10, ax1 + 7, gy + 6);
            line(ctx, ax1, gy + 10, ax1 + 7, gy + 14);

            // panel letter
            ctx.fillStyle = '#111';
            ctx.textAlign = 'center';
            ctx.font = 'bold 16px Lato';
            ctx.fillText(o.letter, o.letterAt[0], o.letterAt[1]);
            ctx.restore();
        }
    };

    return new Chart(cv(id), {
        type: 'line',
        data: {
            datasets: signals.map((s, i) => ({
                label: trackFactors[i] + ' ' + trackSamples[i],
                data: s.map(p => ({ x: p[0], y: p[1] })),
                yAxisID: 't' + i,
                borderColor: trackColor(i),
                backgroundColor: trackColor(i),
                borderWidth: 0.6,
                pointRadius: 0,
                tension: 0,
                fill: 'origin'
            }))
        },
        options: {
            layout: { padding: box(o.area[0], o.area[1], o.area[2], o.area[3]) },
            scales
        },
        plugins: [decor]
    });
}

trackChart('tracksG', [gGrPeak140, gGrNadir180, gPolPeak140, gPolNadir180, gGrCons140, gGrCons180, gPolCons140, gPolCons180, gGrVeh140, gGrVeh180, gPolVeh140, gPolVeh180], {
    span: 103, area: [120, 582, 366, 1027], peaks: gPeaks, rangeDx: 6,
    bar: [27.3, 50], gene: [9.1, 52.5], exons: lpin1Exons, arrow: [52.5, 42.2], name: 'Lpin1', geneY: 1034,
    letter: '(G)', letterAt: [113, 592]
});

trackChart('tracksH', [hGrPeak140, hGrNadir180, hPolPeak140, hPolNadir180, hGrCons140, hGrCons180, hPolCons140, hPolCons180, hGrVeh140, hGrVeh180, hPolVeh140, hPolVeh180], {
    span: 23.3, area: [495, 576, 732, 1021], peaks: hPeaks, rangeDx: 12,
    bar: [7.3, 10], gene: [4.8, 12.0], exons: sdsExons, arrow: [12.2, 4.9], name: 'Sds', geneY: 1034,
    letter: '(H)', letterAt: [484, 587]
});
</script>
</body>
</html>
